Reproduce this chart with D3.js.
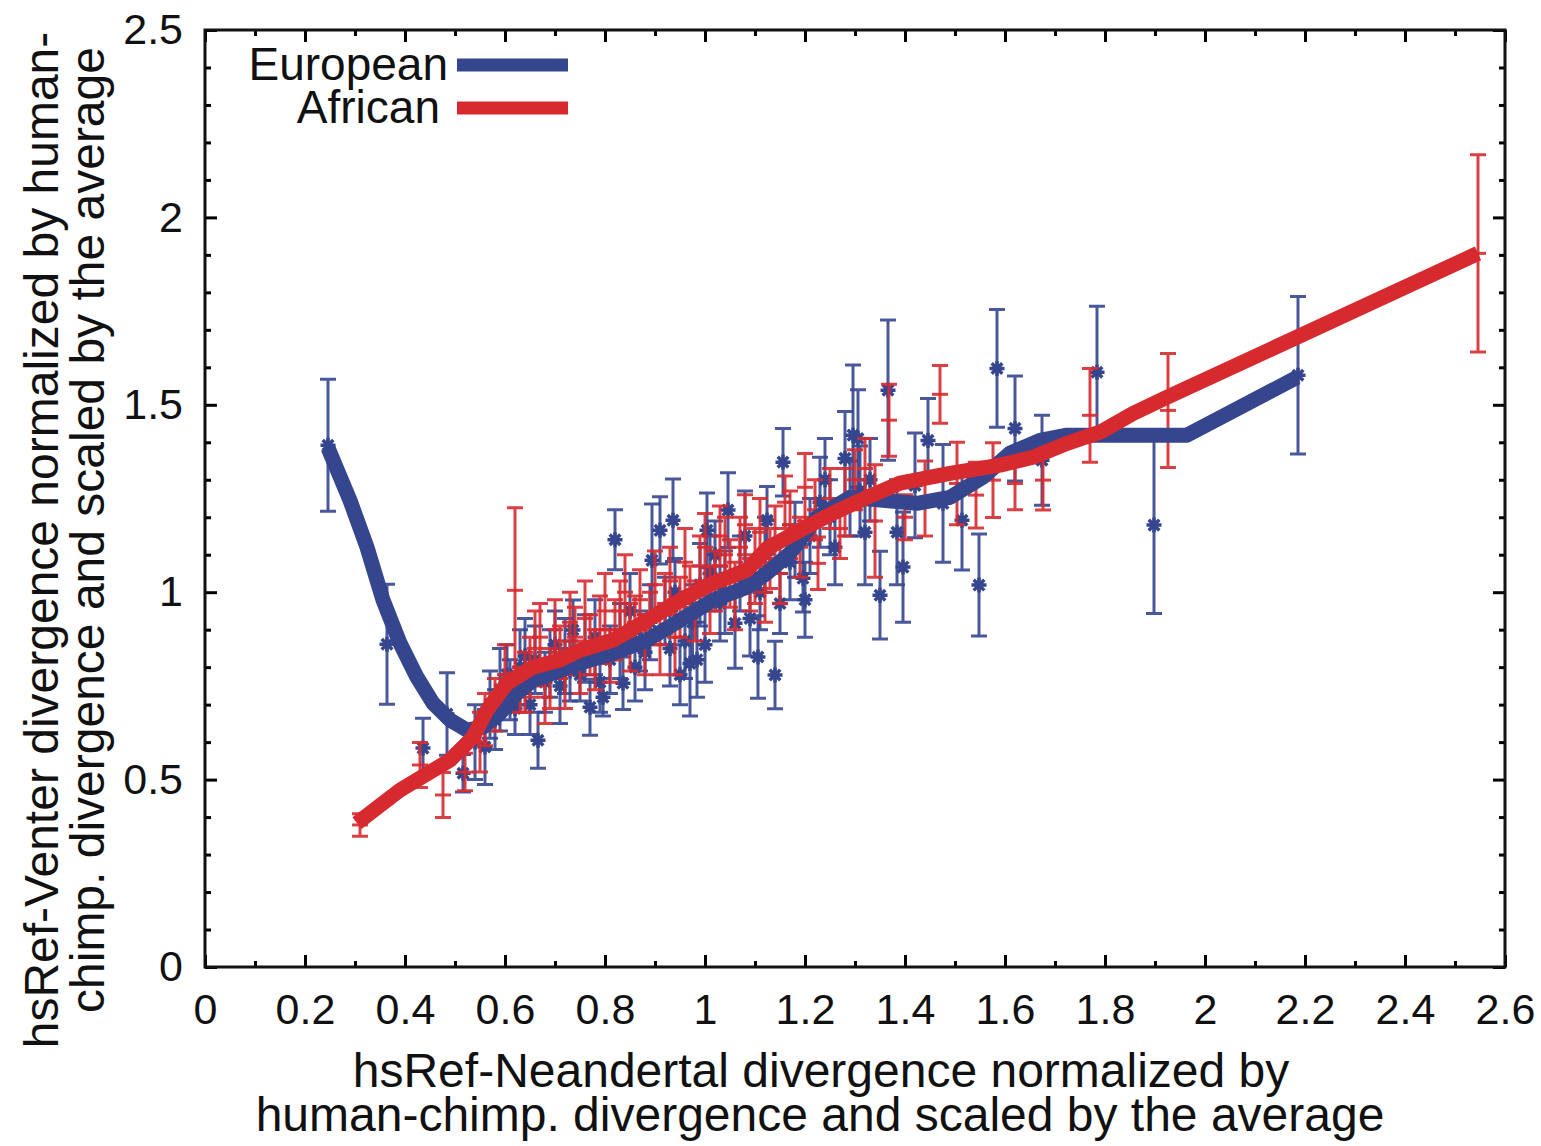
<!DOCTYPE html>
<html><head><meta charset="utf-8">
<script src="https://cdn.jsdelivr.net/npm/d3@7"></script>
<style>
html,body{margin:0;padding:0;background:#fff;}
svg{display:block;}
text{font-family:"Liberation Sans",Arial,Helvetica,sans-serif;fill:#111;}
</style></head>
<body>
<svg id="chart" width="1541" height="1146"></svg>
<script>
// ---- data ----
const xTicks = [0,0.2,0.4,0.6,0.8,1,1.2,1.4,1.6,1.8,2,2.2,2.4,2.6];
const yTicks = [0,0.5,1,1.5,2,2.5];
const seriesNames = ["European","African"];

// European (blue) points: x, y, error
const euX = [0.246,0.364,0.436,0.484,0.516,0.54,0.56,0.58,0.59,0.604,0.62,0.64,0.66,0.666,0.68,0.70,0.72,0.736,0.75,0.77,0.78,0.796,0.81,0.82,0.836,0.85,0.87,0.88,0.894,0.91,0.92,0.936,0.95,0.96,0.97,0.984,0.99,1.004,1.02,1.03,1.046,1.06,1.07,1.08,1.106,1.11,1.124,1.14,1.15,1.156,1.17,1.196,1.21,1.23,1.25,1.28,1.296,1.306,1.32,1.35,1.366,1.384,1.396,1.42,1.446,1.476,1.514,1.548,1.584,1.62,1.674,1.784,1.898,2.186,
  0.57,0.61,0.63,0.65,0.69,0.71,0.73,0.76,0.79,0.83,0.86,0.89,0.93,0.94,0.975,1.0,1.01,1.04,1.09,1.12,1.18,1.2,1.24,1.26,1.29,1.31,1.33];
const euY = [1.392,0.861,0.584,0.675,0.517,0.60,0.587,0.66,0.74,0.78,0.69,0.83,0.82,0.605,0.76,0.86,0.83,0.899,0.78,0.693,0.88,0.72,0.82,1.14,0.757,0.95,0.87,0.84,1.085,1.165,0.95,1.192,0.78,0.87,0.81,0.82,1.02,1.165,1.10,0.97,1.219,0.917,1.05,1.15,0.827,1.00,1.192,0.779,0.97,1.347,1.08,1.037,1.15,1.24,1.20,1.357,1.419,1.41,1.16,0.992,1.539,1.16,1.067,1.285,1.405,1.237,1.192,1.019,1.597,1.437,1.352,1.587,1.179,1.579,
  0.70,0.74,0.80,0.70,0.81,0.75,0.79,0.85,0.76,0.87,0.80,0.92,0.85,1.00,0.92,0.86,1.05,1.00,0.93,1.10,1.14,0.98,1.30,1.12,1.25,1.27,1.30];
const euErr = [0.176,0.16,0.08,0.11,0.05,0.10,0.10,0.08,0.11,0.08,0.07,0.10,0.09,0.075,0.08,0.09,0.10,0.08,0.07,0.075,0.10,0.05,0.09,0.08,0.07,0.10,0.08,0.10,0.15,0.09,0.09,0.11,0.08,0.10,0.14,0.10,0.11,0.10,0.09,0.10,0.10,0.12,0.10,0.12,0.11,0.10,0.09,0.09,0.08,0.09,0.10,0.09,0.10,0.12,0.10,0.125,0.187,0.13,0.14,0.117,0.187,0.14,0.147,0.14,0.112,0.157,0.133,0.136,0.157,0.14,0.12,0.176,0.236,0.21,
  0.09,0.08,0.10,0.08,0.09,0.10,0.08,0.09,0.08,0.10,0.09,0.10,0.10,0.09,0.10,0.10,0.10,0.11,0.10,0.10,0.10,0.10,0.11,0.10,0.10,0.12,0.11];

// African (red) points: x, y, error
const afX = [0.31,0.43,0.476,0.52,0.55,0.58,0.62,0.64,0.66,0.68,0.70,0.72,0.74,0.76,0.78,0.80,0.82,0.84,0.86,0.88,0.90,0.92,0.94,0.96,0.98,1.00,1.02,1.04,1.06,1.08,1.10,1.12,1.14,1.16,1.19,1.20,1.226,1.25,1.27,1.30,1.34,1.368,1.40,1.44,1.47,1.504,1.542,1.576,1.62,1.676,1.77,1.926,2.546,
  0.56,0.60,0.63,0.65,0.67,0.69,0.71,0.73,0.75,0.77,0.79,0.81,0.83,0.85,0.87,0.89,0.91,0.93,0.95,0.97,0.99,1.01,1.03,1.05,1.07,1.09,1.11,1.13,1.15,1.17,1.22,1.28,1.32];
const afY = [0.379,0.539,0.459,0.52,0.60,0.70,1.005,0.76,0.85,0.72,0.90,0.78,0.88,0.93,0.82,0.95,0.90,1.00,0.92,0.86,1.02,0.97,0.88,1.08,0.95,1.12,1.03,1.10,0.99,1.18,1.07,1.00,1.14,1.24,1.12,1.28,1.077,1.25,1.17,1.30,1.19,1.459,1.20,1.25,1.528,1.29,1.259,1.299,1.29,1.299,1.472,1.485,1.904,
  0.66,0.78,0.74,0.80,0.88,0.77,0.84,0.92,0.80,0.86,0.90,0.83,0.95,0.88,0.98,0.93,0.86,1.03,0.96,1.00,1.07,0.98,1.15,1.05,1.12,1.02,1.16,1.09,1.05,1.18,1.22,1.24,1.33];
const afErr = [0.03,0.06,0.06,0.05,0.08,0.07,0.22,0.08,0.10,0.07,0.08,0.09,0.08,0.10,0.08,0.10,0.08,0.10,0.07,0.08,0.09,0.08,0.10,0.09,0.08,0.09,0.08,0.10,0.09,0.08,0.10,0.08,0.09,0.07,0.08,0.09,0.07,0.08,0.08,0.08,0.15,0.096,0.06,0.10,0.077,0.11,0.088,0.10,0.07,0.08,0.125,0.152,0.263,
  0.07,0.08,0.06,0.08,0.09,0.08,0.07,0.08,0.07,0.08,0.09,0.07,0.08,0.09,0.08,0.07,0.08,0.09,0.08,0.07,0.08,0.09,0.08,0.09,0.08,0.07,0.09,0.08,0.08,0.09,0.08,0.09,0.08];

// smoothed curves
const euCurveX = [0.246,0.29,0.324,0.356,0.39,0.424,0.456,0.49,0.524,0.556,0.59,0.624,0.656,0.696,0.75,0.816,0.884,0.95,1.016,1.084,1.124,1.17,1.224,1.29,1.356,1.424,1.49,1.556,1.61,1.67,1.724,1.964,2.184];
const euCurveY = [1.385,1.245,1.12,0.979,0.864,0.773,0.704,0.659,0.632,0.64,0.677,0.731,0.765,0.784,0.811,0.837,0.872,0.925,0.979,1.013,1.051,1.104,1.2,1.253,1.245,1.237,1.253,1.307,1.371,1.405,1.419,1.419,1.573];
const afCurveX = [0.304,0.39,0.49,0.536,0.564,0.604,0.656,0.71,0.75,0.816,0.884,0.95,1.016,1.084,1.124,1.19,1.256,1.324,1.39,1.49,1.59,1.656,1.724,1.79,1.856,1.924,2.546];
const afCurveY = [0.384,0.472,0.552,0.613,0.685,0.757,0.8,0.819,0.845,0.872,0.925,0.979,1.024,1.059,1.117,1.165,1.211,1.253,1.291,1.317,1.339,1.36,1.397,1.427,1.477,1.52,1.904];

// ---- drawing ----
const BLUE = "#35468f", RED = "#d62a2f";
const svg = d3.select("#chart");
const x = d3.scaleLinear().domain([0,2.6]).range([205,1505]);
const y = d3.scaleLinear().domain([0,2.5]).range([967,30]);
const fmt = d => String(+d.toFixed(1));

const xMinor = d3.range(0,27).map(i=>i/10).filter(v=>Math.round(v*10)%2===1);
const yMinor = d3.range(0,26).map(i=>i/10).filter(v=>Math.round(v*10)%5!==0);

function styleAxis(g){ g.select(".domain").remove(); g.selectAll(".tick line").attr("stroke","#000").attr("stroke-width",3); }

// bottom
svg.append("g").attr("transform","translate(0,967)")
  .call(d3.axisBottom(x).tickValues(xTicks).tickSize(-12).tickPadding(26).tickFormat(fmt))
  .call(styleAxis)
  .selectAll("text").attr("font-size",43).attr("fill","#111").attr("font-family","Liberation Sans, Arial, sans-serif");
svg.append("g").attr("transform","translate(0,967)")
  .call(d3.axisBottom(x).tickValues(xMinor).tickSize(-6).tickFormat(""))
  .call(styleAxis);
// top
svg.append("g").attr("transform","translate(0,30)")
  .call(d3.axisTop(x).tickValues(xTicks).tickSize(-12).tickFormat(""))
  .call(styleAxis);
svg.append("g").attr("transform","translate(0,30)")
  .call(d3.axisTop(x).tickValues(xMinor).tickSize(-6).tickFormat(""))
  .call(styleAxis);
// left
svg.append("g").attr("transform","translate(205,0)")
  .call(d3.axisLeft(y).tickValues(yTicks).tickSize(-12).tickPadding(22).tickFormat(fmt))
  .call(styleAxis)
  .selectAll("text").attr("font-size",43).attr("fill","#111").attr("font-family","Liberation Sans, Arial, sans-serif");
svg.append("g").attr("transform","translate(205,0)")
  .call(d3.axisLeft(y).tickValues(yMinor).tickSize(-6).tickFormat(""))
  .call(styleAxis);
// right
svg.append("g").attr("transform","translate(1505,0)")
  .call(d3.axisRight(y).tickValues(yTicks).tickSize(-12).tickFormat(""))
  .call(styleAxis);
svg.append("g").attr("transform","translate(1505,0)")
  .call(d3.axisRight(y).tickValues(yMinor).tickSize(-6).tickFormat(""))
  .call(styleAxis);

// frame
svg.append("rect").attr("x",205).attr("y",30).attr("width",1300).attr("height",937)
  .attr("fill","none").attr("stroke","#111").attr("stroke-width",3);

// error bars
function errorBars(xs, ys, es, color, marker){
  const g = svg.append("g").attr("stroke",color).attr("fill","none").attr("stroke-opacity",0.9);
  const cap = 8;
  xs.forEach((xv,i)=>{
    const px = x(xv), py = y(ys[i]), top = y(ys[i]+es[i]), bot = y(ys[i]-es[i]);
    const pth = d3.path();
    pth.moveTo(px,top); pth.lineTo(px,bot);
    pth.moveTo(px-cap,top); pth.lineTo(px+cap,top);
    pth.moveTo(px-cap,bot); pth.lineTo(px+cap,bot);
    g.append("path").attr("d",pth.toString()).attr("stroke-width",3);
    const m = d3.path();
    if(marker==="star"){
      const r=7.5, d=5.3;
      m.moveTo(px-r,py); m.lineTo(px+r,py);
      m.moveTo(px,py-r); m.lineTo(px,py+r);
      m.moveTo(px-d,py-d); m.lineTo(px+d,py+d);
      m.moveTo(px-d,py+d); m.lineTo(px+d,py-d);
      g.append("path").attr("d",m.toString()).attr("stroke-width",3.5).attr("stroke-opacity",1);
    } else {
      const r=8;
      m.moveTo(px-r,py); m.lineTo(px+r,py);
      g.append("path").attr("d",m.toString()).attr("stroke-width",3);
    }
  });
}
errorBars(euX,euY,euErr,BLUE,"star");
errorBars(afX,afY,afErr,RED,"plus");

// curves
const line = d3.line().x(d=>x(d[0])).y(d=>y(d[1])).curve(d3.curveLinear);
svg.append("path").datum(euCurveX.map((v,i)=>[v,euCurveY[i]]))
  .attr("d",line).attr("fill","none").attr("stroke",BLUE).attr("stroke-width",15).attr("stroke-linejoin","round");
svg.append("path").datum(afCurveX.map((v,i)=>[v,afCurveY[i]]))
  .attr("d",line).attr("fill","none").attr("stroke",RED).attr("stroke-width",15).attr("stroke-linejoin","round");

// legend
const legend = svg.append("g");
const lc = [BLUE, RED], ly = [65,108], lxEnd=[448,440];
seriesNames.forEach((n,i)=>{
  legend.append("text").attr("x",lxEnd[i]).attr("y",ly[i]+15).attr("text-anchor","end").attr("font-size",46).text(n);
  legend.append("line").attr("x1",457).attr("x2",568).attr("y1",ly[i]).attr("y2",ly[i]).attr("stroke",lc[i]).attr("stroke-width",13);
});

// axis titles
svg.append("text").attr("x",821).attr("y",1087).attr("text-anchor","middle").attr("font-size",48)
  .text("hsRef-Neandertal divergence normalized by");
svg.append("text").attr("x",820).attr("y",1131).attr("text-anchor","middle").attr("font-size",48)
  .text("human-chimp. divergence and scaled by the average");
svg.append("text").attr("transform","translate(58,540) rotate(-90)").attr("text-anchor","middle").attr("font-size",48)
  .text("hsRef-Venter divergence normalized by human-");
svg.append("text").attr("transform","translate(104,530) rotate(-90)").attr("text-anchor","middle").attr("font-size",48)
  .text("chimp. divergence and scaled by the average");
</script>
</body></html>
